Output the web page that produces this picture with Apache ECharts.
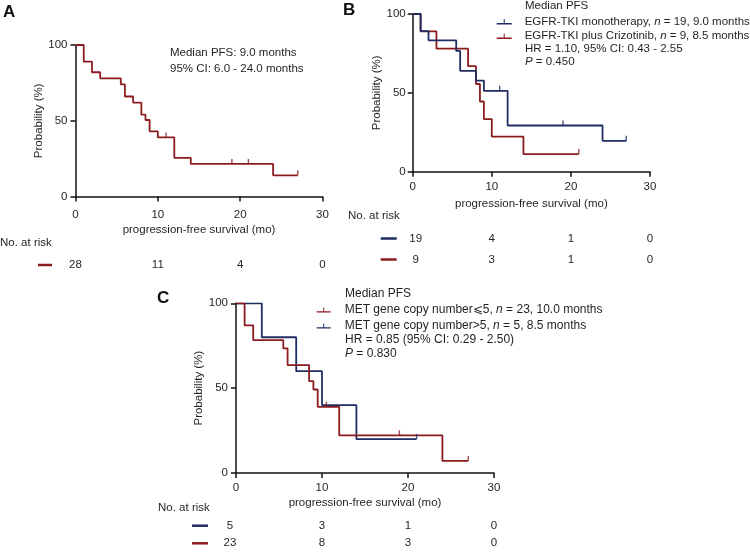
<!DOCTYPE html>
<html><head><meta charset="utf-8">
<script src="https://cdn.jsdelivr.net/npm/echarts@6/dist/echarts.min.js"></script>
<style>html,body{margin:0;padding:0;background:#fff}#c{width:750px;height:554px}</style>
</head><body><div id="c"></div><script>
const RED='#8c1b1f', BLUE='#1f2d62', TXT='#231f20', AX='#111111';
const FONT='"Liberation Sans", Arial, Helvetica, sans-serif';

// ---- Panel A: all patients ----
const aTimes=[0,1,2,3,5.5,6,7,8,8.5,9,10,12,14,24,27];
const aSurv=[100,89,82,78,74,66,62,54,50.5,43,39,25.5,21.5,14,14];
const aCensorT=[11,19,21,27];
const aCensorS=[39,21.5,21.5,14];
const aRisk=[28,11,4,0];

// ---- Panel B: EGFR-TKI monotherapy vs plus crizotinib ----
const bMonoName='EGFR-TKI monotherapy, n = 19, 9.0 months';
const bCrizName='EGFR-TKI plus Crizotinib, n = 9, 8.5 months';
const bMonoTimes=[0,1,2,5.5,6,8,9,12,24,27];
const bMonoSurv=[100,89.2,83.3,76.6,63.9,57.8,51.3,29.3,19.6,19.6];
const bMonoCensorT=[11,19,27];
const bMonoCensorS=[51.3,29.3,19.6];
const bCrizTimes=[0,1,3,7,8,8.5,9,10,14,21];
const bCrizSurv=[100,89,78,67,55.6,44.5,33.4,22.3,11.2,11.2];
const bCrizCensorT=[21];
const bCrizCensorS=[11.2];
const bRiskMono=[19,4,1,0];
const bRiskCriz=[9,3,1,0];

// ---- Panel C: MET gene copy number ----
const cLowName='MET gene copy number\u2A7D5, n = 23, 10.0 months';
const cHighName='MET gene copy number>5, n = 5, 8.5 months';
const cLowTimes=[0,1,2,5.5,6,8.5,9,9.5,12,24,27];
const cLowSurv=[100,87,78.3,73.4,63.6,54.1,49.2,39,22.2,7.1,7.1];
const cLowCensorT=[10.5,19,27];
const cLowCensorS=[39,22.2,7.1];
const cHighTimes=[0,3,7,10,14,21];
const cHighSurv=[100,80,60,40,20,20];
const cHighCensorT=[21];
const cHighCensorS=[20];
const cRiskHigh=[5,3,1,0];
const cRiskLow=[23,8,3,0];

const riskTimes=[0,10,20,30];
const xTicks={min:0,max:30,interval:10};
const yTicks={min:0,max:100,interval:50};

function zip(a,b){return a.map((v,i)=>[v,b[i]]);}

function plotAxes(g, labMx, labMy, gapX, gapY){
  const line={lineStyle:{color:AX,width:1.5}};
  return {
    x:{gridIndex:g,type:'value',min:xTicks.min,max:xTicks.max,interval:xTicks.interval,
      axisLine:{show:true,onZero:false,...line},axisTick:{show:true,length:5,...line},splitLine:{show:false},
      axisLabel:{margin:labMx,fontSize:11.5,color:TXT,fontFamily:FONT},
      name:'progression-free survival (mo)',nameLocation:'middle',nameGap:gapX,
      nameTextStyle:{fontSize:11.5,color:TXT,fontFamily:FONT}},
    y:{gridIndex:g,type:'value',min:yTicks.min,max:yTicks.max,interval:yTicks.interval,
      axisLine:{show:true,onZero:false,...line},axisTick:{show:true,length:5,...line},splitLine:{show:false},
      axisLabel:{margin:labMy,fontSize:11.5,color:TXT,fontFamily:FONT},
      name:'Probability (%)',nameLocation:'middle',nameGap:gapY,nameRotate:90,
      nameTextStyle:{fontSize:11.5,color:TXT,fontFamily:FONT}}
  };
}
function riskAxes(g, rows, colors, dashW, dashMargin){
  const rich={};
  colors.forEach((c,i)=>{rich['d'+i]={width:dashW,height:2.5,lineHeight:2.5,backgroundColor:c};});
  return {
    x:{gridIndex:g,type:'value',min:0,max:30,show:false},
    y:{gridIndex:g,type:'category',inverse:true,data:rows,
      axisLine:{show:false},axisTick:{show:false},splitLine:{show:false},
      axisLabel:{margin:dashMargin,formatter:(v,i)=>'{d'+i+'|\u2002}',rich:rich}}
  };
}
function kmSeries(name,g,times,surv,color){
  return {name:name,type:'line',xAxisIndex:g,yAxisIndex:g,step:'end',data:zip(times,surv),
    showSymbol:false,symbol:'none',color:color,lineStyle:{color:color,width:1.8},z:3,silent:true};
}
function censorSeries(g,t,s,color){
  return {type:'scatter',xAxisIndex:g,yAxisIndex:g,data:zip(t,s),symbol:'rect',
    symbolSize:[1.4,5],symbolOffset:[0,-2.5],itemStyle:{color:color},z:4,silent:true};
}
function riskSeries(g,row,vals,firstOff){
  return {type:'scatter',xAxisIndex:g,yAxisIndex:g,symbolSize:0,itemStyle:{color:'#ffffff',opacity:1},silent:true,
    data:riskTimes.map((t,j)=>({value:[t,row,vals[j]],label:{offset:[j===0?firstOff:0,0]}})),
    label:{show:true,position:'inside',formatter:p=>String(p.value[2]),fontSize:11.5,color:TXT,
      fontFamily:FONT,textBorderWidth:0,textBorderColor:'transparent',opacity:1}};
}

const axA=plotAxes(0,12,8,27.5,29);
const axB=plotAxes(1,9.5,7,26,29.5);
const axC=plotAxes(2,9,8,24,30);
const rA=riskAxes(3,['a'],[RED],14,23.5);
const rB=riskAxes(4,['m','c'],[BLUE,RED],16,16);
const rC=riskAxes(5,['h','l'],[BLUE,RED],16,28);

const legIcon='path://M0,9L30,9L30,12L0,12Z M14,1L16,1L16,9L14,9Z';
function legFmt(name){return name.replace(', n =',', {i|n} =');}

function txt(text,x,y,size,extra){
  return {type:'text',x:x,y:y,silent:true,style:Object.assign({text:text,fill:TXT,
    font:(size||11.5)+'px '+FONT,verticalAlign:'middle',align:'left'},extra||{})};
}
const italicRich=(s)=>({i:{fontStyle:'italic',fontSize:s,fontFamily:FONT,fill:TXT}});

const option={
  animation:false,
  backgroundColor:'#fff',
  grid:[
    {left:75.5,top:45,width:247,height:151.5,outerBoundsMode:'none'},
    {left:412.7,top:14,width:237.3,height:157.7,outerBoundsMode:'none'},
    {left:236,top:303.3,width:258,height:169.7,outerBoundsMode:'none'},
    {left:75.5,top:255,width:247,height:20,outerBoundsMode:'none'},
    {left:412.7,top:228,width:237.3,height:42,outerBoundsMode:'none'},
    {left:236,top:516.9,width:258,height:35.2,outerBoundsMode:'none'}
  ],
  xAxis:[axA.x,axB.x,axC.x,rA.x,rB.x,rC.x],
  yAxis:[axA.y,axB.y,axC.y,rA.y,rB.y,rC.y],
  legend:[
    {data:[bMonoName,bCrizName],orient:'vertical',left:496.7,top:14.7,padding:0,itemGap:0.5,
      itemWidth:15,itemHeight:6,icon:legIcon,selectedMode:false,formatter:legFmt,
      textStyle:{fontSize:11.5,lineHeight:14,color:TXT,fontFamily:FONT,padding:[0,0,0,8],
        rich:{i:{fontStyle:'italic',fontSize:11.5,fontFamily:FONT,color:TXT}}}},
    {data:[cLowName,cHighName],orient:'vertical',left:316.7,top:303,padding:0,itemGap:2,
      itemWidth:14,itemHeight:6,icon:legIcon,selectedMode:false,formatter:legFmt,
      textStyle:{fontSize:12,lineHeight:14,color:TXT,fontFamily:FONT,padding:[0,0,0,9],
        rich:{i:{fontStyle:'italic',fontSize:12,fontFamily:FONT,color:TXT}}}}
  ],
  series:[
    kmSeries('All patients',0,aTimes,aSurv,RED),
    censorSeries(0,aCensorT,aCensorS,RED),
    kmSeries(bCrizName,1,bCrizTimes,bCrizSurv,RED),
    kmSeries(bMonoName,1,bMonoTimes,bMonoSurv,BLUE),
    censorSeries(1,bCrizCensorT,bCrizCensorS,RED),
    censorSeries(1,bMonoCensorT,bMonoCensorS,BLUE),
    kmSeries(cHighName,2,cHighTimes,cHighSurv,BLUE),
    kmSeries(cLowName,2,cLowTimes,cLowSurv,RED),
    censorSeries(2,cHighCensorT,cHighCensorS,BLUE),
    censorSeries(2,cLowCensorT,cLowCensorS,RED),
    riskSeries(3,0,aRisk,0),
    riskSeries(4,0,bRiskMono,3),
    riskSeries(4,1,bRiskCriz,3),
    riskSeries(5,0,cRiskHigh,-6),
    riskSeries(5,1,cRiskLow,-6)
  ],
  graphic:[
    txt('A',3,12.5,17,{font:'bold 17px '+FONT,fill:'#111'}),
    txt('B',343,10.7,17,{font:'bold 17px '+FONT,fill:'#111'}),
    txt('C',157,298.5,17,{font:'bold 17px '+FONT,fill:'#111'}),
    txt('Median PFS: 9.0 months',170,53.3,11.5),
    txt('95% CI: 6.0 - 24.0 months',170,69,11.5),
    txt('No. at risk',0,242.7,11.5),
    txt('No. at risk',348,216,11.5),
    txt('No. at risk',158,507.7,11.5),
    txt('Median PFS',525,5.7,11.5),
    txt('HR = 1.10, 95% CI: 0.43 - 2.55',525,49.3,11.5),
    txt('{i|P} = 0.450',525,61.7,11.5,{rich:italicRich(11.5)}),
    txt('Median PFS',345,294,12),
    txt('HR = 0.85 (95% CI: 0.29 - 2.50)',345,339.7,12),
    txt('{i|P} = 0.830',345,354,12,{rich:italicRich(12)})
  ]
};
const chart=echarts.init(document.getElementById('c'),null,{renderer:'canvas'});
chart.setOption(option);
</script></body></html>
